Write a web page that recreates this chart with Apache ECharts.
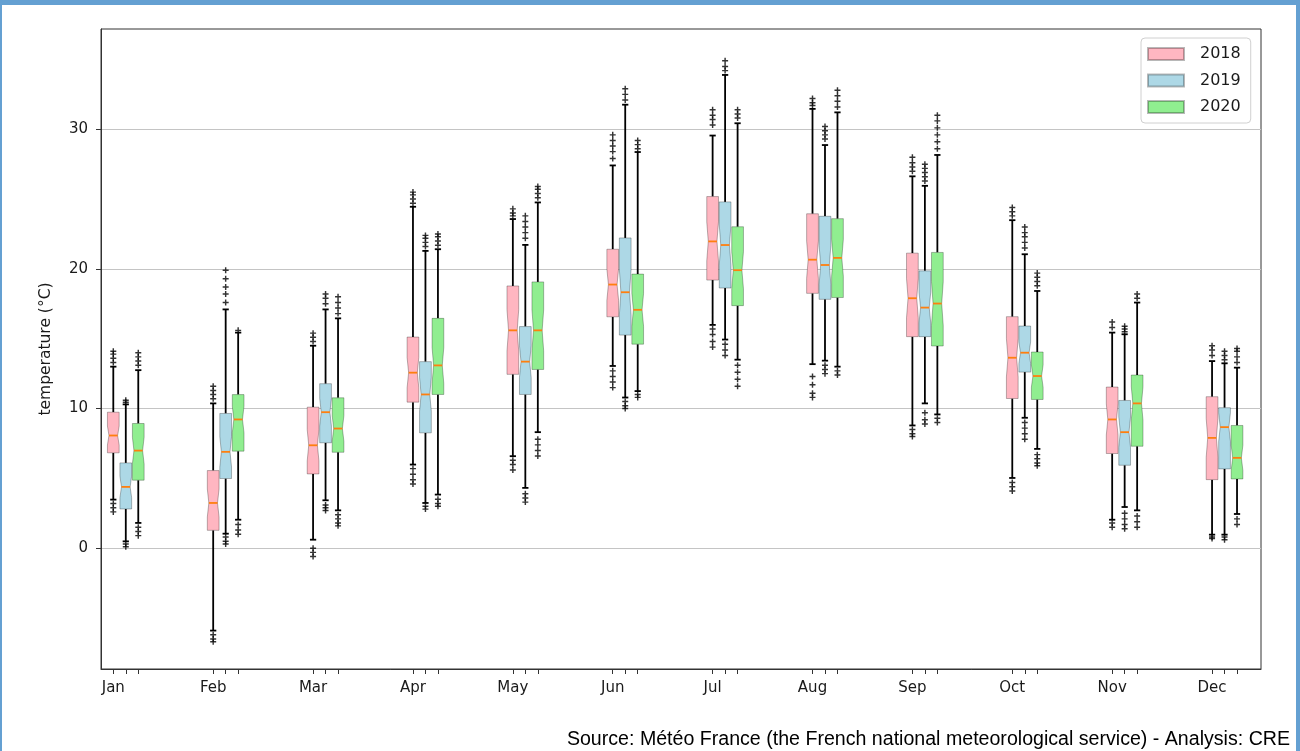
<!DOCTYPE html>
<html>
<head>
<meta charset="utf-8">
<script src="https://cdn.jsdelivr.net/npm/echarts@6/dist/echarts.min.js"></script>
<style>
html,body{margin:0;padding:0;background:#fff;}
#chart{width:1300px;height:751px;}
</style>
</head>
<body>
<div id="chart"></div>
<script>
// ---------- DATA ----------
const MONTHS = ['Jan','Feb','Mar','Apr','May','Jun','Jul','Aug','Sep','Oct','Nov','Dec'];
const YEARS = ['2018','2019','2020'];
const Y_TICKS = [0, 10, 20, 30];

// 2018
const low2018  = [3.48, -5.9, 0.61, 5.99, 6.59, 13.05, 15.99, 13.18, 8.79, 5.03, 2.04, 0.97];
const q1_2018  = [6.83, 1.28, 5.32, 10.46, 12.45, 16.57, 19.2, 18.25, 15.15, 10.72, 6.78, 4.91];
const med2018  = [8.07, 3.24, 7.37, 12.57, 15.6, 18.88, 21.97, 20.66, 17.9, 13.64, 9.22, 7.9];
const q3_2018  = [9.74, 5.56, 10.1, 15.12, 18.78, 21.41, 25.18, 23.95, 21.13, 16.58, 11.54, 10.85];
const high2018 = [13.0, 10.37, 14.5, 24.45, 23.57, 27.41, 29.55, 31.46, 26.63, 23.49, 15.44, 13.4];
const out2018 = [
  [13.3, 13.6, 13.9, 14.1, 3.2, 2.9, 2.6],
  [10.7, 11.0, 11.3, 11.6, -6.2, -6.5, -6.7],
  [14.8, 15.1, 15.4, 0.0, -0.3, -0.6],
  [24.7, 25.0, 25.3, 25.5, 5.7, 5.3, 4.9, 4.6],
  [23.8, 24.0, 24.3, 6.3, 6.0, 5.6],
  [27.9, 28.4, 28.8, 29.2, 29.6, 12.7, 12.3, 11.9, 11.5],
  [30.3, 30.7, 31.0, 31.4, 15.7, 15.3, 14.8, 14.4],
  [31.7, 31.9, 32.2, 12.3, 11.7, 11.1, 10.8],
  [27.0, 27.3, 27.6, 28.0, 8.5, 8.2, 8.0],
  [23.8, 24.1, 24.4, 4.7, 4.4, 4.1],
  [15.8, 16.2, 1.8, 1.5],
  [13.8, 14.2, 14.5, 0.8, 0.7]
];

// 2019
const low2019  = [0.49, 1.04, 3.43, 3.24, 4.32, 10.79, 14.94, 13.43, 10.37, 9.34, 2.95, 0.97];
const q1_2019  = [2.81, 4.99, 7.55, 8.26, 11.01, 15.26, 18.63, 17.82, 15.15, 12.61, 5.94, 5.68];
const med2019  = [4.39, 6.9, 9.74, 11.01, 13.36, 18.33, 21.71, 20.28, 17.23, 14.0, 8.31, 8.67];
const q3_2019  = [6.11, 9.65, 11.78, 13.36, 15.87, 22.22, 24.8, 23.77, 19.86, 15.91, 10.58, 10.06];
const high2019 = [10.3, 17.1, 17.1, 21.29, 21.72, 31.76, 33.89, 28.87, 25.95, 21.05, 15.32, 13.24];
const out2019 = [
  [10.45, 10.6, 0.3, 0.1],
  [17.6, 18.2, 18.7, 19.3, 19.9, 0.8, 0.5, 0.3],
  [17.5, 17.9, 18.2, 3.1, 2.9, 2.7],
  [21.6, 21.9, 22.2, 22.4, 3.0, 2.8],
  [22.2, 22.6, 23.0, 23.4, 23.8, 3.9, 3.6, 3.3],
  [32.1, 32.5, 32.9, 10.5, 10.2, 10.0],
  [34.2, 34.5, 34.9, 14.6, 14.2, 13.8],
  [29.3, 29.6, 29.9, 30.2, 13.1, 12.8, 12.5],
  [26.3, 26.6, 26.9, 27.2, 27.5, 9.7, 9.2, 8.9],
  [21.5, 21.9, 22.3, 22.6, 23.0, 9.0, 8.6, 8.2, 7.8],
  [15.5, 15.7, 15.9, 2.5, 2.1, 1.7, 1.4],
  [13.5, 13.8, 14.1, 0.8, 0.6]
];

// 2020
const low2020  = [1.81, 2.04, 2.71, 3.84, 8.31, 11.25, 13.5, 13.0, 9.58, 7.11, 2.71, 2.45];
const q1_2020  = [4.87, 6.95, 6.87, 11.01, 12.8, 14.61, 17.37, 17.95, 14.48, 10.65, 7.3, 4.96];
const med2020  = [6.99, 9.22, 8.57, 13.09, 15.6, 17.07, 19.91, 20.79, 17.52, 12.33, 10.37, 6.47];
const q3_2020  = [8.93, 11.0, 10.77, 16.46, 19.07, 19.63, 23.02, 23.6, 21.18, 14.05, 12.4, 8.79];
const high2020 = [12.75, 15.44, 16.46, 21.41, 24.76, 28.37, 30.43, 31.21, 28.16, 18.42, 17.59, 12.93];
const out2020 = [
  [13.1, 13.4, 13.7, 14.0, 1.5, 1.2, 0.9],
  [15.6, 1.7, 1.3, 1.0],
  [16.8, 17.2, 17.6, 18.0, 2.4, 2.1, 1.8, 1.6],
  [21.7, 22.0, 22.3, 22.5, 3.5, 3.2, 3.0],
  [25.1, 25.4, 25.7, 25.9, 7.8, 7.4, 7.0, 6.6],
  [28.6, 28.9, 29.2, 11.0, 10.8],
  [30.8, 31.1, 31.4, 13.1, 12.6, 12.1, 11.6],
  [31.6, 32.0, 32.4, 32.8, 12.7, 12.4],
  [28.6, 29.1, 29.6, 30.1, 30.6, 31.0, 9.3, 9.0],
  [18.8, 19.1, 19.4, 19.7, 6.7, 6.4, 6.1, 5.9],
  [17.9, 18.2, 2.3, 1.9, 1.5],
  [13.3, 13.7, 14.1, 14.3, 2.1, 1.7]
];

// ---------- LAYOUT / STYLE ----------
const STATS = [
  [low2018, q1_2018, med2018, q3_2018, high2018, out2018],
  [low2019, q1_2019, med2019, q3_2019, high2019, out2019],
  [low2020, q1_2020, med2020, q3_2020, high2020, out2020]
];
const COLORS = ['#ffb6c1', '#add8e6', '#90ee90'];
const MONTH_STEP = 8;        // axis units between months
const BOX_W = 0.94;          // box width in axis units
const CAP_W = 0.5;
const NOTCH_K = 0.234;       // notch half-height relative to IQR
const NARROW = 0.74;         // notch narrow width ratio
const EDGE = 'rgba(0,0,0,0.28)';
const FONT = 'DejaVu Sans';

const posOf = (m, k) => m * MONTH_STEP + k;

function makeRender(color) {
  return function (params, api) {
    const x = api.value(0), lo = api.value(1), q1 = api.value(2), md = api.value(3), q3 = api.value(4), hi = api.value(5);
    const c = (v) => api.coord([x, v]);
    const xp = c(md)[0];
    const hw = api.size([BOX_W, 0])[0] / 2;
    const cw = api.size([CAP_W, 0])[0] / 2;
    const nw = hw * NARROW;
    const ci = NOTCH_K * (q3 - q1);
    const yq1 = c(q1)[1], yq3 = c(q3)[1], ym = c(md)[1];
    const ynl = c(md - ci)[1], ynh = c(md + ci)[1];
    const ylo = c(lo)[1], yhi = c(hi)[1];
    const wStyle = { stroke: '#000', lineWidth: 1.8 };
    return {
      type: 'group',
      children: [
        { type: 'line', shape: { x1: xp, y1: yq3, x2: xp, y2: yhi }, style: wStyle },
        { type: 'line', shape: { x1: xp, y1: yq1, x2: xp, y2: ylo }, style: wStyle },
        { type: 'line', shape: { x1: xp - cw, y1: yhi, x2: xp + cw, y2: yhi }, style: wStyle },
        { type: 'line', shape: { x1: xp - cw, y1: ylo, x2: xp + cw, y2: ylo }, style: wStyle },
        {
          type: 'polygon',
          shape: {
            points: [
              [xp - hw, yq1], [xp + hw, yq1], [xp + hw, ynl], [xp + nw, ym], [xp + hw, ynh],
              [xp + hw, yq3], [xp - hw, yq3], [xp - hw, ynh], [xp - nw, ym], [xp - hw, ynl]
            ]
          },
          style: { fill: color, stroke: EDGE, lineWidth: 1 }
        },
        { type: 'line', shape: { x1: xp - nw, y1: ym, x2: xp + nw, y2: ym }, style: { stroke: '#ff7f0e', lineWidth: 1.8 } }
      ]
    };
  };
}

const series = [];
const tickPositions = [];
MONTHS.forEach((m, mi) => YEARS.forEach((y, k) => tickPositions.push(posOf(mi, k))));

YEARS.forEach((year, k) => {
  const [lo, q1, md, q3, hi, out] = STATS[k];
  const data = MONTHS.map((m, mi) => [posOf(mi, k), lo[mi], q1[mi], md[mi], q3[mi], hi[mi]]);
  series.push({
    name: year,
    type: 'custom',
    renderItem: makeRender(COLORS[k]),
    itemStyle: { color: COLORS[k], borderColor: EDGE, borderWidth: 1 },
    encode: { x: 0, y: [1, 2, 3, 4, 5] },
    data: data,
    z: 3
  });
  const pts = [];
  out.forEach((vals, mi) => vals.forEach(v => pts.push([posOf(mi, k), v])));
  series.push({
    name: year + ' outliers',
    type: 'scatter',
    symbol: 'path://M3.8,0h2.4v3.8h3.8v2.4h-3.8v3.8h-2.4v-3.8h-3.8v-2.4h3.8z',
    symbolSize: 6,
    itemStyle: { color: '#000' },
    data: pts,
    silent: true,
    z: 2
  });
});

const chart = echarts.init(document.getElementById('chart'), null, { renderer: 'canvas' });
chart.setOption({
  animation: false,
  backgroundColor: '#fff',
  grid: { left: 101, right: 39, top: 29, bottom: 82, show: true, borderColor: '#333', borderWidth: 1, backgroundColor: 'transparent' },
  legend: {
    orient: 'vertical',
    left: 1141,
    top: 38,
    data: YEARS.map(y => ({ name: y, icon: 'rect' })),
    itemWidth: 36,
    itemHeight: 12,
    itemGap: 10.5,
    padding: [8, 10, 8, 6],
    backgroundColor: 'rgba(255,255,255,0.9)',
    borderColor: '#d0d0d0',
    borderWidth: 1,
    borderRadius: 4,
    textStyle: { fontFamily: FONT, fontSize: 16, color: '#1a1a1a', padding: [0, 0, 0, 11] }
  },
  xAxis: {
    type: 'value',
    min: -0.985,
    max: 91.92,
    axisLine: { show: true, onZero: false, lineStyle: { color: '#333' } },
    axisTick: { show: true, length: 5, lineStyle: { color: '#333' }, customValues: tickPositions },
    axisLabel: {
      customValues: MONTHS.map((m, mi) => posOf(mi, 0)),
      formatter: (v) => MONTHS[Math.round(v / MONTH_STEP)],
      fontFamily: FONT, fontSize: 15, color: '#1a1a1a', margin: 12
    },
    splitLine: { show: false }
  },
  yAxis: {
    type: 'value',
    min: -8.65,
    max: 37.18,
    name: 'temperature (°C)',
    nameLocation: 'middle',
    nameGap: 47,
    nameTextStyle: { fontFamily: FONT, fontSize: 15.5, color: '#1a1a1a' },
    axisLine: { show: true, onZero: false, lineStyle: { color: '#333' } },
    axisTick: { show: true, length: 5, lineStyle: { color: '#333' }, customValues: Y_TICKS },
    axisLabel: { customValues: Y_TICKS, fontFamily: FONT, fontSize: 15, color: '#1a1a1a', margin: 13 },
    splitLine: { show: true, lineStyle: { color: '#c4c4c4', width: 1 } }
  },
  graphic: [
    { type: 'rect', shape: { x: 0, y: 0, width: 1300, height: 5 }, style: { fill: '#64a0d2' }, z: 100 },
    { type: 'rect', shape: { x: 0, y: 0, width: 2, height: 751 }, style: { fill: '#64a0d2' }, z: 100 },
    { type: 'rect', shape: { x: 1296, y: 0, width: 4, height: 751 }, style: { fill: '#64a0d2' }, z: 100 },
    {
      type: 'text', right: 10, top: 730, z: 100,
      style: { text: 'Source: Météo France (the French national meteorological service) - Analysis: CRE', font: '19.6px "Liberation Sans", Arial, sans-serif', fill: '#000' }
    }
  ],
  series: series
});
</script>
</body>
</html>
